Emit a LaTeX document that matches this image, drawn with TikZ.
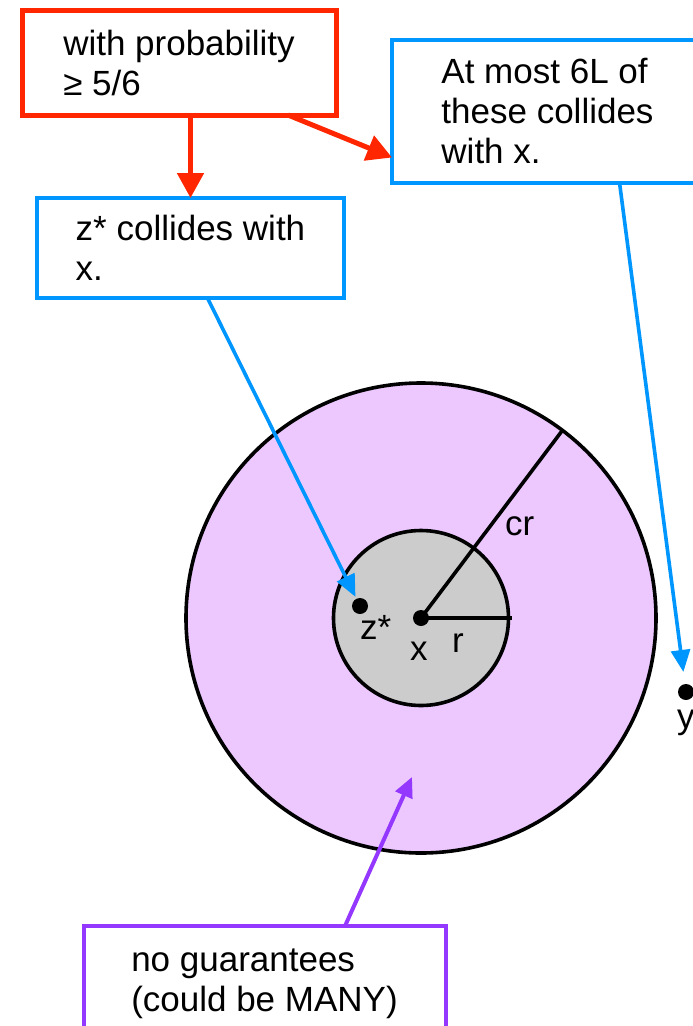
\documentclass[tikz,border=0pt]{standalone}
\usepackage{fontspec}
\setmainfont{Liberation Sans}
\usetikzlibrary{positioning, arrows.meta, calc}

\definecolor{alertred}{RGB}{255,38,0}
\definecolor{noteblue}{RGB}{0,150,255}
\definecolor{notepurple}{RGB}{148,55,255}
\definecolor{ballfill}{RGB}{236,200,255}
\definecolor{corefill}{RGB}{204,204,204}

\begin{document}
\begin{tikzpicture}[
    x=1pt, y=-1pt,
    every node/.style={font=\fontsize{35}{40}\selectfont},
    note/.style={
        rectangle,
        draw=#1,
        line width=4pt,
        align=left,
        inner sep=0pt,
        outer sep=0pt
    },
    ball/.style={
        circle,
        draw=black,
        line width=3.6pt,
        inner sep=0pt,
        outer sep=0pt
    },
    dot/.style={circle, fill=black, inner sep=0pt, minimum size=16pt},
    pt_text/.style={anchor=base west, inner sep=0pt},
    red_arrow/.style={-{Triangle[length=25pt, width=26pt]}, line width=5pt, alertred},
    blue_arrow/.style={-{Triangle[length=22pt, width=19pt]}, line width=3.6pt, noteblue},
    purple_arrow/.style={-{Triangle[length=20pt, width=18pt]}, line width=4pt, notepurple}
]

    \useasboundingbox (0,0) rectangle (693,1026);

    % Balls
    \node[ball, fill=ballfill, minimum size=470pt] (outer) at (421,618) {};
    \node[ball, fill=corefill, minimum size=175pt] (inner) at (421,618) {};

    % Radii
    \draw[line width=3.6pt] (inner.center) -- (outer.53);
    \draw[line width=3.6pt] (inner.center) -- ([xshift=3pt]inner.east);

    % Points
    \node[dot] (x) at (inner.center) {};
    \node[dot] (zs) at (360,606) {};
    \node[dot] (y) at (686,692) {};

    % Point labels
    \node[pt_text] (lbl_zs) at (360,639) {z*};
    \node[pt_text] (lbl_x) at (410,660) {x};
    \node[pt_text] (lbl_r) at (452,652) {r};
    \node[pt_text] (lbl_cr) at (505,535) {cr};
    \node[pt_text] (lbl_y) at (677,728) {y};

    % Boxes
    \node[note=alertred, line width=5pt, minimum width=314pt, minimum height=105pt] (prob) at (179,62.5) {with probability\\≥ 5/6};
    \node[note=noteblue, minimum width=307pt, minimum height=100pt] (zcol) at (190.5,248) {z* collides with\\x.};
    \node[note=noteblue, minimum width=311pt, minimum height=143pt] (most) at (547.5,111) {At most 6L of\\these collides\\with x.};
    \node[note=notepurple, minimum width=362pt, minimum height=116pt] (many) at (264.5,984) {no guarantees\\(could be MANY)};

    % Arrows
    \coordinate (spot) at (412,777);
    \draw[red_arrow] (zcol.north |- prob.south) -- (zcol.north);
    \draw[red_arrow] ([xshift=-48pt]prob.south east) -- ([yshift=25pt]most.south west);
    \draw[blue_arrow, shorten >=2pt] ([xshift=17pt]zcol.south) -- (zs);
    \draw[blue_arrow, shorten >=12pt] ([xshift=72pt]most.south) -- (y);
    \draw[purple_arrow] ([xshift=80.5pt]many.north) -- (spot);

\end{tikzpicture}
\end{document}
